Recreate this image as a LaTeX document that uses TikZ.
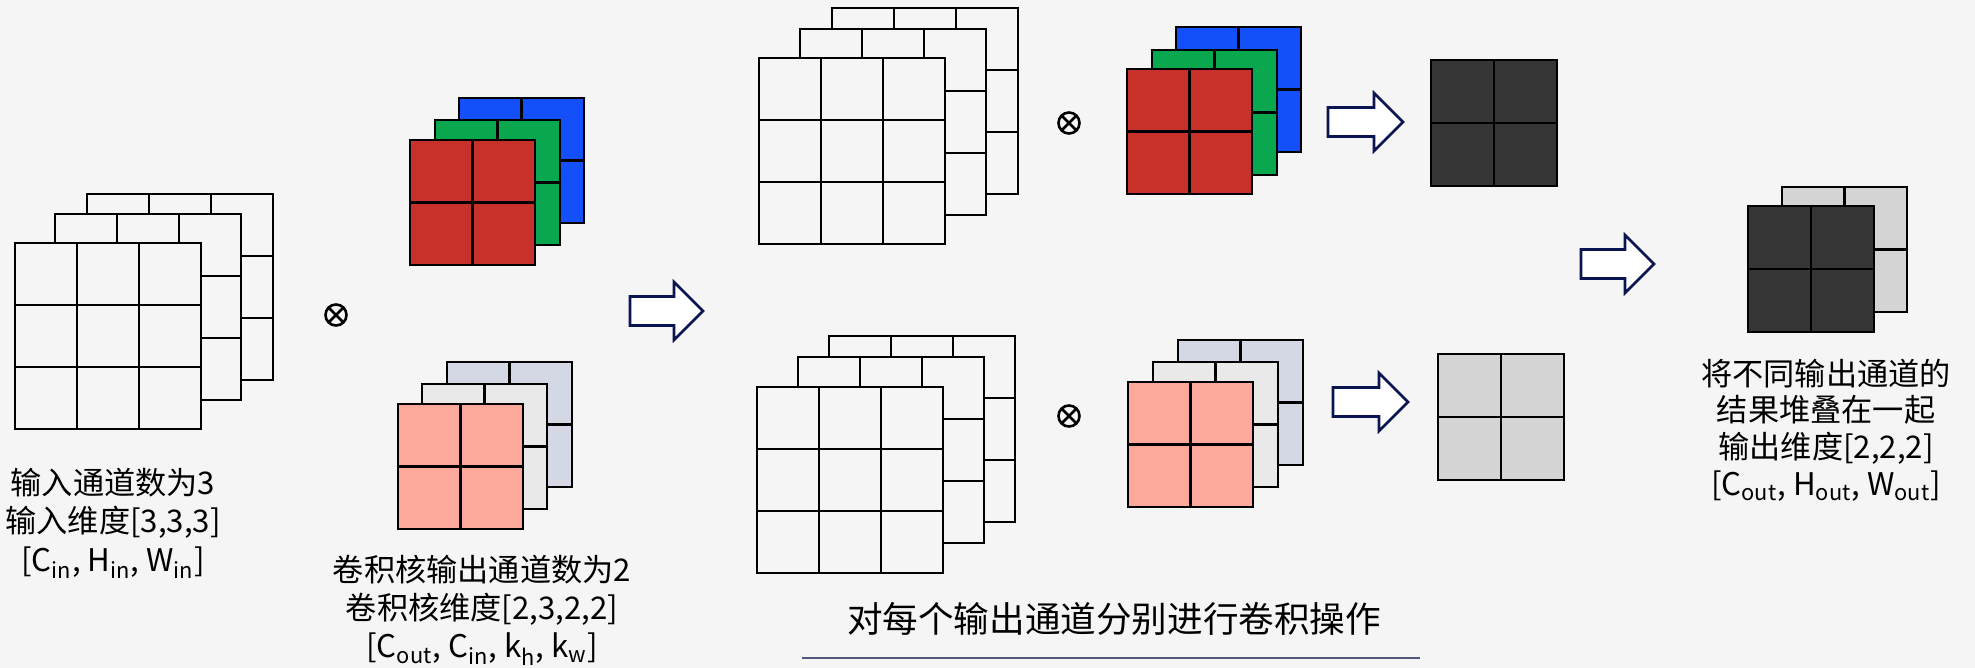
\documentclass[tikz,border=0pt]{standalone}
\usepackage{amsmath}
\usepackage{fontspec}
\setmainfont{Noto Sans CJK SC}
\usepackage{tikz}
\definecolor{bg}{HTML}{F5F5F5}
\definecolor{kred}{HTML}{C8302A}
\definecolor{kgreen}{HTML}{0AA84E}
\definecolor{kblue}{HTML}{1450FA}
\definecolor{salmon}{HTML}{FCA99B}
\definecolor{pale}{HTML}{E9E9E9}
\definecolor{bluegray}{HTML}{D3D8E4}
\definecolor{dark}{HTML}{363636}
\definecolor{outgray}{HTML}{D4D4D4}
\definecolor{navy}{HTML}{0A1450}
\definecolor{rulecol}{HTML}{50577A}
\tikzset{
  sheet/.style      = {draw=black, line width=1.4pt},
  blockarrow/.style = {draw=navy, line width=1.3pt, fill=white, line join=miter},
  desc/.style       = {align=center, inner sep=0pt,
                       font=\fontsize{15.6}{19.2}\selectfont},
  optimes/.style    = {circle, draw, line width=1.3pt, minimum size=10.5pt,
                       inner sep=0pt,
                       path picture={\draw[line width=1.3pt]
                         (path picture bounding box.north west) -- (path picture bounding box.south east)
                         (path picture bounding box.north east) -- (path picture bounding box.south west);}}
}
% one layer: top-left x, top-left y, cells, cell size, fill
\newcommand{\sheet}[5]{%
  \draw[sheet, fill=#5] (#1,#2) rectangle ++({#3*#4},{#3*#4});
  \pgfmathtruncatemacro\lastk{#3-1}
  \foreach \k in {1,...,\lastk}{
    \draw[sheet] ({#1+\k*#4},#2) -- ++(0,{#3*#4});
    \draw[sheet] (#1,{#2+\k*#4}) -- ++({#3*#4},0);
  }%
}
% hollow arrow: left x, tip x, centre y
\newcommand{\blockarrow}[3]{%
  \draw[blockarrow] (#1,#3-14.5) -- (#2-29,#3-14.5) -- (#2-29,#3-29) -- (#2,#3)
    -- (#2-29,#3+29) -- (#2-29,#3+14.5) -- (#1,#3+14.5) -- cycle;%
}

\begin{document}
\begin{tikzpicture}[x=0.5pt, y=-0.5pt]
  \fill[bg] (0,0) rectangle (1975,668);
  \useasboundingbox (0,0) rectangle (1975,668);

  % input
  \sheet{87}{194}{3}{62}{bg}
  \sheet{55}{214}{3}{62}{bg}
  \sheet{15}{243}{3}{62}{bg}
  \node[optimes] (conv) at (336,315) {};

  % kernels
  \sheet{459}{98}{2}{62.5}{kblue}
  \sheet{435}{120}{2}{62.5}{kgreen}
  \sheet{410}{140}{2}{62.5}{kred}
  \sheet{447}{362}{2}{62.5}{bluegray}
  \sheet{422}{384}{2}{62.5}{pale}
  \sheet{398}{404}{2}{62.5}{salmon}

  \blockarrow{630}{703}{311}

  % first output channel
  \sheet{832}{8}{3}{62}{bg}
  \sheet{800}{29}{3}{62}{bg}
  \sheet{759}{58}{3}{62}{bg}
  \node[optimes] (convtop) at (1069,123) {};
  \sheet{1176}{27}{2}{62.5}{kblue}
  \sheet{1152}{50}{2}{62.5}{kgreen}
  \sheet{1127}{69}{2}{62.5}{kred}
  \blockarrow{1328}{1403}{122}
  \sheet{1431}{60}{2}{63}{dark}

  % second output channel
  \sheet{829}{336}{3}{62}{bg}
  \sheet{798}{357}{3}{62}{bg}
  \sheet{757}{387}{3}{62}{bg}
  \node[optimes] (convbot) at (1069,416) {};
  \sheet{1178}{340}{2}{62.5}{bluegray}
  \sheet{1153}{362}{2}{62.5}{pale}
  \sheet{1128}{382}{2}{62.5}{salmon}
  \blockarrow{1333}{1408}{402}
  \sheet{1438}{354}{2}{63}{outgray}

  % stacked result
  \blockarrow{1581}{1654}{264}
  \sheet{1782}{187}{2}{62.5}{outgray}
  \sheet{1748}{206}{2}{63}{dark}

  \node[desc] (inlabel) at (113,523)
    {输入通道数为3\\输入维度[3,3,3]\\{[}C\textsubscript{in}, H\textsubscript{in}, W\textsubscript{in}]};
  \node[desc] (kerlabel) at (482,610)
    {卷积核输出通道数为2\\卷积核维度[2,3,2,2]\\{[}C\textsubscript{out}, C\textsubscript{in}, k\textsubscript{h}, k\textsubscript{w}]};
  \node[desc, font=\fontsize{15.6}{18.4}\selectfont] (outlabel) at (1826,430)
    {将不同输出通道的\\结果堆叠在一起\\输出维度[2,2,2]\\{[}C\textsubscript{out}, H\textsubscript{out}, W\textsubscript{out}]};
  \node[desc, font=\fontsize{17.8}{20}\selectfont] (perchannel) at (1114,619)
    {对每个输出通道分别进行卷积操作};
  \draw[rulecol, line width=1pt] (802,658) -- (1420,658);
\end{tikzpicture}
\end{document}
